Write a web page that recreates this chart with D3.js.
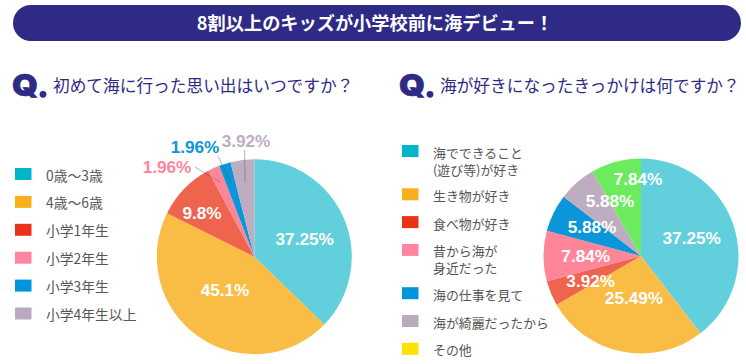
<!DOCTYPE html>
<html lang="ja">
<head>
<meta charset="utf-8">
<script src="https://cdn.jsdelivr.net/npm/d3@7"></script>
<style>
  html, body { margin: 0; padding: 0; background: #fff; }
  svg { display: block; }
  text { font-family: "Noto Sans CJK JP", "Noto Sans", sans-serif; }
  .value { font-family: "Liberation Sans", Arial, sans-serif; font-size: 17.2px; font-weight: bold; text-anchor: middle; }
</style>
</head>
<body>
<div id="chart"></div>
<script>
var titleText = "8割以上のキッズが小学校前に海デビュー！";

var question1 = "初めて海に行った思い出はいつですか？";
var legend1 = [["0歳〜3歳"], ["4歳〜6歳"], ["小学1年生"], ["小学2年生"], ["小学3年生"], ["小学4年生以上"]];
var values1 = [37.25, 45.1, 9.8, 1.96, 1.96, 3.92];
var labels1 = ["37.25%", "45.1%", "9.8%", "1.96%", "1.96%", "3.92%"];

var question2 = "海が好きになったきっかけは何ですか？";
var legend2 = [["海でできること", "(遊び等)が好き"], ["生き物が好き"], ["食べ物が好き"], ["昔から海が", "身近だった"], ["海の仕事を見て"], ["海が綺麗だったから"], ["その他"]];
var values2 = [37.25, 25.49, 3.92, 7.84, 5.88, 5.88, 7.84];
var labels2 = ["37.25%", "25.49%", "3.92%", "7.84%", "5.88%", "5.88%", "7.84%"];

var pieColors = ["#62d0dc", "#f9bc45", "#ee644e", "#ff8599", "#0a96d8", "#beadc1", "#6ceb5e"];
var keyColors = ["#00b5c8", "#f9ae1b", "#e93419", "#ff85a0", "#0095db", "#bba9bf", "#ffe100"];
var navy = "#2e2a85";

var width = 746, height = 364, radius = 97.5;

var svg = d3.select("#chart").append("svg")
    .attr("width", width)
    .attr("height", height);

// title bar
svg.append("rect")
    .attr("x", 13).attr("y", 5)
    .attr("width", 728).attr("height", 36)
    .attr("rx", 18)
    .attr("fill", navy);

svg.append("text")
    .attr("x", 375).attr("y", 30)
    .attr("text-anchor", "middle")
    .attr("font-size", 18.2)
    .attr("font-weight", 700)
    .attr("fill", "#fff")
    .text(titleText);

function question(x, text) {
  var g = svg.append("g").attr("transform", "translate(" + x + ",0)");
  g.append("text")
      .attr("transform", "translate(-1,96) scale(1.1,1)")
      .attr("font-size", 30)
      .attr("font-weight", 900)
      .attr("fill", navy)
      .attr("stroke", navy)
      .attr("stroke-width", 0.6)
      .style("font-family", "Inter, sans-serif")
      .text("Q");
  g.append("circle")
      .attr("cx", 30).attr("cy", 94.3).attr("r", 3.4)
      .attr("fill", navy);
  g.append("text")
      .attr("x", 40).attr("y", 92)
      .attr("font-size", 16.7)
      .attr("fill", navy)
      .text(text);
}

question(13, question1);
question(400, question2);

function pieChart(cx, cy, values, labels, labelAt, leaderColor) {
  var g = svg.append("g").attr("transform", "translate(" + cx + "," + cy + ")");

  var arcs = d3.pie().sort(null).value(function(d) { return d; })(values);
  var arc = d3.arc().innerRadius(0).outerRadius(radius);

  g.selectAll("path")
      .data(arcs)
    .enter().append("path")
      .attr("d", arc)
      .attr("fill", function(d, i) { return pieColors[i]; });

  // leader lines for the thin slices
  var leaderY = -74.4;
  g.selectAll("line")
      .data(arcs.filter(function(d, i) { return leaderColor[i]; }))
    .enter().append("line")
      .attr("x1", function(d) { return labelAt[d.index][0] + leaderColor[d.index][0]; })
      .attr("y1", function(d) { return labelAt[d.index][1] + leaderColor[d.index][1]; })
      .attr("x2", function(d) {
        var mid = (d.startAngle + d.endAngle) / 2;
        return -leaderY * Math.tan(mid);
      })
      .attr("y2", leaderY)
      .attr("stroke", "#555")
      .attr("stroke-opacity", 0.55)
      .attr("stroke-width", 0.8);

  g.selectAll(".value")
      .data(arcs)
    .enter().append("text")
      .attr("class", "value")
      .attr("x", function(d) { return labelAt[d.index][0]; })
      .attr("y", function(d) { return labelAt[d.index][1] + 6; })
      .attr("fill", function(d) { return leaderColor[d.index] ? pieColors[d.index] : "#fff"; })
      .text(function(d, i) { return labels[i]; });
}

// label centres relative to the pie centre
pieChart(254.3, 256.7, values1, labels1,
    [[50.4, -17.7], [-29.3, 33.3], [-52.3, -43.7], [-87.3, -89.7], [-59.3, -109.7], [-8.3, -115.7]],
    [null, null, null, [28, 0], [23, 9], [-1.5, 9]]);

pieChart(641, 256, values2, labels2,
    [[50.7, -18.3], [-7, 42], [-50.3, 24.7], [-55.3, 0], [-49, -29.3], [-31, -55], [-3, -77]],
    [null, null, null, null, null, null, null]);

function legend(x, rows, y0, step, extra, size) {
  var y = y0;
  var g = svg.append("g");
  rows.forEach(function(lines, i) {
    g.append("rect")
        .attr("x", x).attr("y", y - 6)
        .attr("width", 16.5).attr("height", 12)
        .attr("fill", keyColors[i]);
    g.selectAll(null)
        .data(lines)
      .enter().append("text")
        .attr("x", x + 31)
        .attr("y", function(d, j) { return y + 6.5 + j * 17; })
        .attr("font-size", size)
        .attr("fill", "#555")
        .text(function(d) { return d; });
    y += step + (lines.length - 1) * extra;
  });
}

legend(15, legend1, 174, 27.9, 0, 13.8);
legend(402, legend2, 151, 27.8, 15.5, 12.9);
</script>
</body>
</html>
